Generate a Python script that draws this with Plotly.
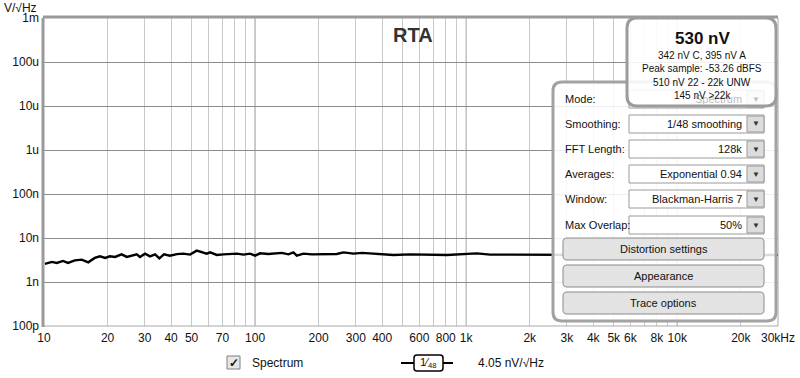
import plotly.graph_objects as go

# ---------------- data ----------------
freq_hz = [10.1, 10.9, 11.5, 12.3, 13.0, 14.0, 15.1, 16.2, 17.4, 18.4, 19.5, 20.5, 21.7, 23.3,
           24.7, 26.0, 27.5, 28.5, 30.1, 31.8, 33.6, 35.2, 37.0, 39.5, 42.6, 45.7, 49.2, 52.9,
           55.9, 59.0, 61.2, 65.8, 70.8, 76.1, 81.9, 88.1, 94.7, 100, 105.6, 115.6, 124.4,
           133.8, 143.9, 151.9, 157.6, 169.4, 185.7, 243.9, 262.1, 292.4, 320.4, 377.6, 452.4,
           542.8, 674.5, 810, 1124, 1299, 1616, 2011, 2500, 3200, 4000, 5000, 6300, 8000,
           10000, 12500, 16000, 20000, 25000, 30000]
spectrum_nv = [2.57, 2.86, 2.71, 3.01, 2.71, 3.10, 3.22, 2.80, 3.52, 3.83, 3.52, 3.83, 3.71, 4.25,
               3.71, 3.97, 4.25, 3.71, 4.41, 3.83, 4.25, 3.45, 4.25, 3.97, 4.30, 4.41, 4.19, 5.16,
               4.72, 4.41, 4.72, 4.12, 4.25, 4.25, 4.41, 4.19, 4.41, 3.97, 4.48, 4.34, 4.41,
               4.58, 4.25, 4.72, 3.97, 4.41, 4.25, 4.34, 4.72, 4.41, 4.58, 4.41, 4.12,
               4.25, 4.12, 4.12, 4.48, 4.19, 4.19, 4.15, 4.12, 4.15, 4.10, 4.12, 4.10, 4.10,
               4.08, 4.10, 4.05, 4.05, 4.10, 4.10]

y_tick_vals = [1e-10, 1e-9, 1e-8, 1e-7, 1e-6, 1e-5, 1e-4, 1e-3]
y_tick_text = ["100p", "1n", "10n", "100n", "1u", "10u", "100u", "1m"]

x_tick_vals = [10, 20, 30, 40, 50, 60, 70, 80, 90,
               100, 200, 300, 400, 500, 600, 700, 800, 900,
               1000, 2000, 3000, 4000, 5000, 6000, 7000, 8000, 9000,
               10000, 20000, 30000]
x_tick_text = ["10", "20", "30", "40", "50", "", "70", "", "",
               "100", "200", "300", "400", "", "600", "", "800", "",
               "1k", "2k", "3k", "4k", "5k", "6k", "", "8k", "",
               "10k", "20k", "30kHz"]
decade_lines = [100, 1000, 10000]

panel_rows = ["Mode:", "Smoothing:", "FFT Length:", "Averages:", "Window:", "Max Overlap:"]
panel_values = ["Spectrum", "1/48 smoothing", "128k", "Exponential 0.94", "Blackman-Harris 7", "50%"]
panel_buttons = ["Distortion settings", "Appearance", "Trace options"]
info_lines = ["342 nV C, 395 nV A", "Peak sample: -53.26 dBFS", "510 nV 22 - 22k UNW", "145 nV >22k"]
info_title = "530 nV"
cursor_readout = "4.05 nV/√Hz"

# ---------------- layout geometry (pixels) ----------------
W_FIG, H_FIG = 800, 378
L, R, T, B = 44, 778, 18, 326
PW, PH = R - L, B - T
FONT = "Liberation Sans, Arial, sans-serif"


def px(x):
    return (x - L) / PW


def py(y):
    return (B - y) / PH


def rrect(x0, y0, x1, y1, r):
    def P(x, y):
        return f"{px(x):.5f},{py(y):.5f}"
    return (f"M {P(x0 + r, y0)} L {P(x1 - r, y0)} Q {P(x1, y0)} {P(x1, y0 + r)} "
            f"L {P(x1, y1 - r)} Q {P(x1, y1)} {P(x1 - r, y1)} "
            f"L {P(x0 + r, y1)} Q {P(x0, y1)} {P(x0, y1 - r)} "
            f"L {P(x0, y0 + r)} Q {P(x0, y0)} {P(x0 + r, y0)} Z")


shapes = []
annotations = []


def add_rrect(x0, y0, x1, y1, r, fill, line, width, layer="above"):
    shapes.append(dict(type="path", xref="paper", yref="paper", path=rrect(x0, y0, x1, y1, r),
                       fillcolor=fill, line=dict(color=line, width=width), layer=layer))


def add_rect(x0, y0, x1, y1, fill, line, width, layer="above"):
    shapes.append(dict(type="rect", xref="paper", yref="paper", x0=px(x0), x1=px(x1),
                       y0=py(y1), y1=py(y0), fillcolor=fill,
                       line=dict(color=line, width=width), layer=layer))


def add_line(x0, y0, x1, y1, color, width, layer="above"):
    shapes.append(dict(type="line", xref="paper", yref="paper", x0=px(x0), x1=px(x1),
                       y0=py(y0), y1=py(y1), line=dict(color=color, width=width), layer=layer))


def add_text(x, y, text, size=11, color="#111", xanchor="left", bold=False):
    if bold:
        text = f"<b>{text}</b>"
    annotations.append(dict(xref="paper", yref="paper", x=px(x), y=py(y), text=text,
                            showarrow=False, xanchor=xanchor, yanchor="middle",
                            font=dict(family=FONT, size=size, color=color)))


# decade vertical grid lines (darker)
for f in decade_lines:
    shapes.append(dict(type="line", xref="x", yref="paper", x0=f, x1=f, y0=0, y1=1,
                       line=dict(color="#8c8c8c", width=1), layer="between"))

# plot frame (3D inset look)
add_line(L, B, R, B, "#a8a8a8", 1)
add_line(R, T, R, B, "#a8a8a8", 1)
add_line(L - 1, T, L - 1, B + 1, "#9a9a9a", 3)
add_line(L - 1, T - 1, R, T - 1, "#9a9a9a", 3)

# ---------------- settings panel ----------------
add_rrect(553, 82, 776, 321, 9, "rgba(255,255,255,0.86)", "#a2a2a2", 3)
row_y = [99, 124, 149, 174, 199, 225]
for i, (lab, val) in enumerate(zip(panel_rows, panel_values)):
    y = row_y[i]
    add_text(563, y, lab, size=11, color="#111")
    add_rect(629, y - 9, 764, y + 9, "rgba(255,255,255,0.9)", "#9a9a9a", 1)
    add_rect(747, y - 8, 764, y + 8, "#dcdcdc", "#9a9a9a", 1)
    add_text(755.5, y, "▼", size=8, color="#c0c0c0" if i == 0 else "#333", xanchor="center")
    add_text(744, y, val, size=11, color="#bdbdbd" if i == 0 else "#111", xanchor="right")

btn_y = [(238, 260), (265, 287), (292, 314)]
for (y0, y1), lab in zip(btn_y, panel_buttons):
    add_rrect(563, y0, 764, y1, 4, "#e3e3e3", "#8a8a8a", 1)
    add_text(663.5, (y0 + y1) / 2, lab, size=11, color="#111", xanchor="center")

# ---------------- info box ----------------
add_rrect(627, 18, 776, 106, 10, "rgba(255,255,255,0.88)", "#9c9c9c", 3)
add_text(702, 38, info_title, size=17, color="#111", xanchor="center", bold=True)
for i, t in enumerate(info_lines):
    add_text(702, 55.5 + i * 13.3, t, size=10, color="#111", xanchor="center")

# ---------------- title & axis unit ----------------
add_text(413, 35, "RTA", size=20, color="#333", xanchor="center", bold=True)
add_text(2, 8, "V/√Hz", size=12, color="#111", xanchor="left")

# ---------------- bottom legend ----------------
add_rect(227, 356, 240, 369, "#e6e6e6", "#808080", 1)
add_text(233.5, 362.5, "✓", size=12, color="#111", xanchor="center", bold=True)
add_text(250, 363, "Spectrum", size=12, color="#111")
add_line(401, 363, 453, 363, "#000", 2)
add_rrect(414, 355, 443, 371, 3, "#ffffff", "#000", 1.5)
add_text(428.5, 363, "1⁄<sub>48</sub>", size=11, color="#111", xanchor="center")
add_text(476, 363, cursor_readout, size=12, color="#111")

# ---------------- figure ----------------
fig = go.Figure()
fig.add_trace(go.Scatter(x=freq_hz, y=[v * 1e-9 for v in spectrum_nv], mode="lines",
                         line=dict(color="#000000", width=2.4),
                         showlegend=False, hoverinfo="skip"))

fig.update_layout(
    template="none",
    width=W_FIG, height=H_FIG,
    margin=dict(l=L, r=W_FIG - R, t=T, b=H_FIG - B, pad=0),
    paper_bgcolor="#ffffff", plot_bgcolor="#ffffff",
    font=dict(family=FONT, size=12, color="#111"),
    shapes=shapes, annotations=annotations,
    showlegend=False,
)
fig.update_xaxes(type="log", range=[1, 4.47712], tickvals=x_tick_vals, ticktext=x_tick_text,
                 showgrid=True, gridcolor="#c8c8c8", gridwidth=1, zeroline=False,
                 showline=False, ticks="", automargin=False, ticklabelstandoff=3,
                 tickfont=dict(size=12, color="#111"), fixedrange=True)
fig.update_yaxes(type="log", range=[-10, -3], tickvals=y_tick_vals, ticktext=y_tick_text,
                 showgrid=True, gridcolor="#8c8c8c", gridwidth=1, zeroline=False,
                 showline=False, ticks="", automargin=False, ticklabelstandoff=4,
                 tickfont=dict(size=12, color="#111"), fixedrange=True)

fig.write_html("out.html", config={"displayModeBar": False},
               post_script="document.body.style.margin='0px';document.body.style.overflow='hidden';")
